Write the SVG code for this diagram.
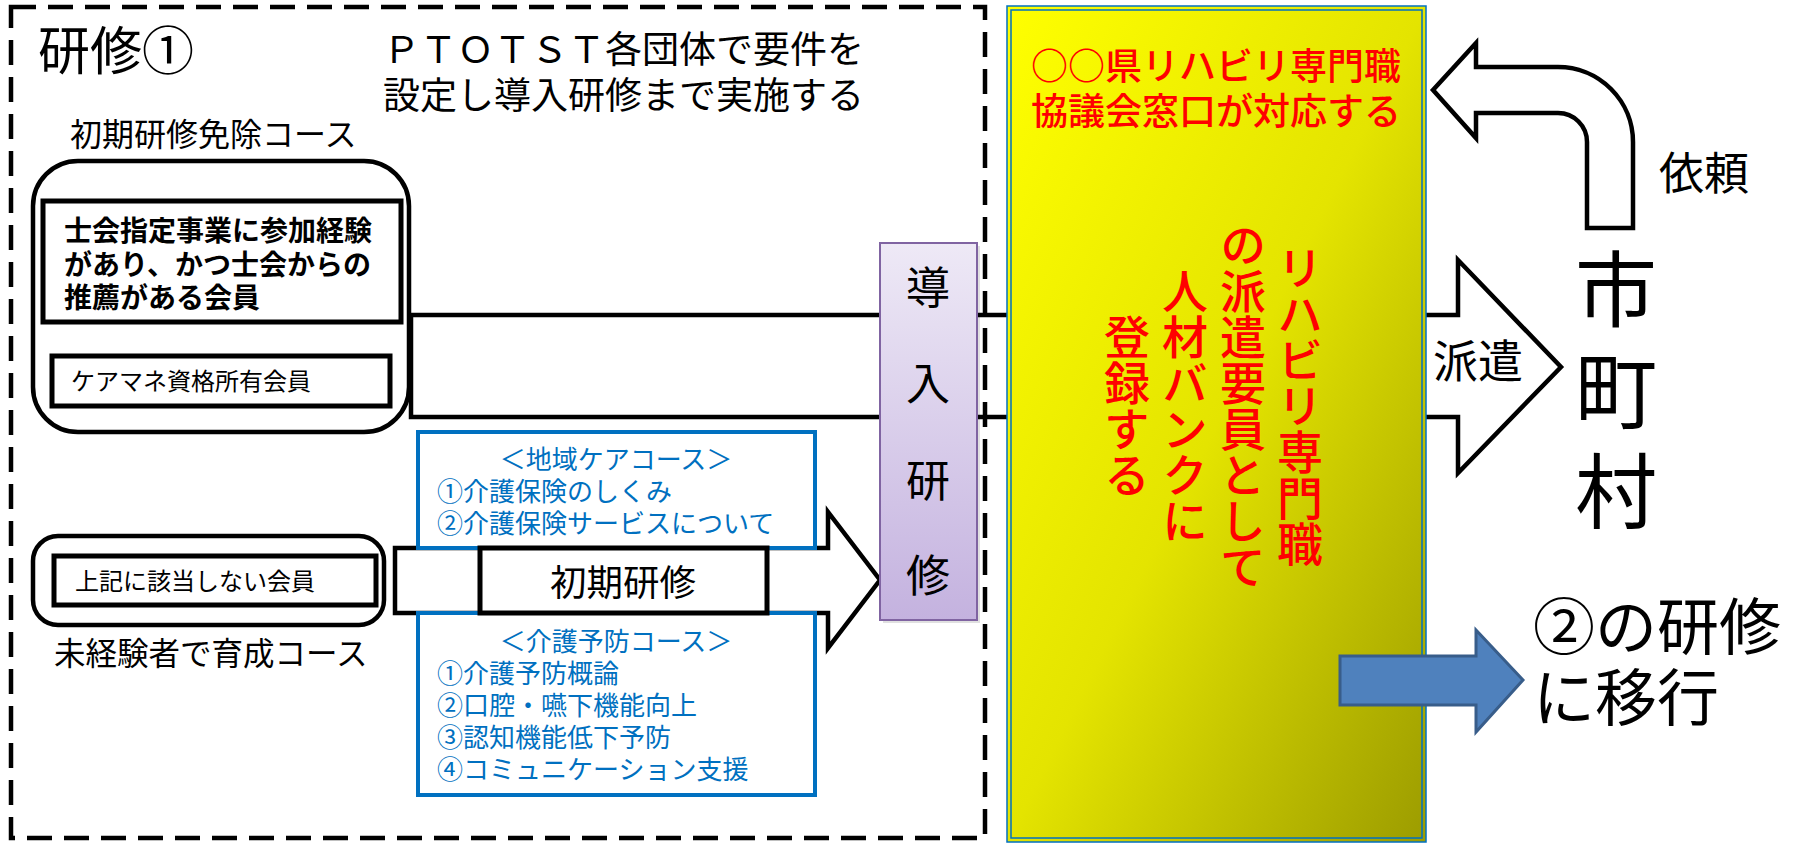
<svg xmlns="http://www.w3.org/2000/svg" width="1797" height="843" viewBox="0 0 1797 843">
<style>
text{font-family:"Noto Sans CJK JP","Noto Sans CJK SC",sans-serif;fill:#000}
.blk{fill:#fff;stroke:#000;stroke-width:4.5}
.thick{fill:#fff;stroke:#000;stroke-width:5}
.blue{fill:#fff;stroke:#0070c0;stroke-width:4}
.bt{fill:#0070c0;font-size:26px}
.red{fill:#ff0000}
.vcol{fill:#ff0000;font-size:46px;writing-mode:vertical-rl;font-weight:500}
</style>
<defs>
<linearGradient id="yel" x1="0" y1="0" x2="1" y2="1">
<stop offset="0" stop-color="#ffff00"/>
<stop offset="0.5" stop-color="#e4e400"/>
<stop offset="1" stop-color="#9c9c00"/>
</linearGradient>
<linearGradient id="pur" x1="0" y1="0" x2="0" y2="1">
<stop offset="0" stop-color="#eee9f6"/>
<stop offset="1" stop-color="#c4b2df"/>
</linearGradient>
</defs>

<g id="connectors">
<path id="haken-arrow" class="blk" stroke-width="4" d="M411 315 L1458 315 L1458 260 L1561 367 L1458 473 L1458 417 L411 417 Z"/>
</g>

<rect id="frame" x="11" y="7" width="974" height="831" fill="none" stroke="#000" stroke-width="4.5" stroke-dasharray="25 12"/>

<g id="title">
<text x="38" y="70" font-size="52">研修①</text>
<text x="383" y="63" font-size="37">ＰＴＯＴＳＴ各団体で要件を</text>
<text x="383" y="109" font-size="37">設定し導入研修まで実施する</text>
</g>

<g id="exempt-course">
<text x="70" y="146" font-size="32">初期研修免除コース</text>
<rect class="blk" x="33" y="161" width="376" height="271" rx="45"/>
<rect class="thick" x="43" y="201" width="358" height="121"/>
<text x="64" y="241" font-size="28" font-weight="bold">士会指定事業に参加経験</text>
<text x="64" y="275" font-size="28" font-weight="bold">があり、かつ士会からの</text>
<text x="64" y="308" font-size="28" font-weight="bold">推薦がある会員</text>
<rect class="thick" x="52" y="356" width="338" height="50"/>
<text x="71" y="390" font-size="24">ケアマネ資格所有会員</text>
</g>

<g id="connectors2">
<path id="shoki-arrow" class="blk" d="M395 548 L828 548 L828 512 L880 580 L828 648 L828 613 L395 613 Z"/>
</g>

<g id="new-course">
<rect class="blk" x="33" y="536" width="351" height="89" rx="25"/>
<rect class="thick" x="54" y="556" width="322" height="49"/>
<text x="75" y="590" font-size="24">上記に該当しない会員</text>
<text x="54" y="665" font-size="31.5">未経験者で育成コース</text>
</g>

<g id="chiiki-care">
<rect class="blue" x="418" y="432" width="397" height="116"/>
<text class="bt" x="616" y="469" text-anchor="middle">＜地域ケアコース＞</text>
<text class="bt" x="437" y="501">①介護保険のしくみ</text>
<text class="bt" x="437" y="533">②介護保険サービスについて</text>
</g>

<g id="kaigo-yobo">
<rect class="blue" x="418" y="613" width="397" height="182"/>
<text class="bt" x="616" y="651" text-anchor="middle">＜介護予防コース＞</text>
<text class="bt" x="437" y="683">①介護予防概論</text>
<text class="bt" x="437" y="715">②口腔・嚥下機能向上</text>
<text class="bt" x="437" y="747">③認知機能低下予防</text>
<text class="bt" x="437" y="779">④コミュニケーション支援</text>
</g>

<g id="shoki-kenshu">
<rect class="thick" x="480" y="548" width="287" height="65"/>
<text x="623" y="596" font-size="36.5" text-anchor="middle">初期研修</text>
</g>

<g id="dounyu">
<rect x="883" y="246" width="97" height="377" fill="#000" opacity="0.12"/>
<rect x="880" y="243" width="97" height="377" fill="url(#pur)" stroke="#8064a2" stroke-width="2"/>
<text x="928" y="304" font-size="44" text-anchor="middle">導</text>
<text x="928" y="400" font-size="44" text-anchor="middle">入</text>
<text x="928" y="497" font-size="44" text-anchor="middle">研</text>
<text x="928" y="592" font-size="44" text-anchor="middle">修</text>
</g>

<g id="council">
<rect x="1007" y="6" width="419" height="836" fill="url(#yel)" stroke="#0070c0" stroke-width="1.5"/>
<rect x="1011" y="10" width="411" height="828" fill="none" stroke="#0070c0" stroke-width="1.5"/>
<text class="red" x="1216" y="80" font-size="37" text-anchor="middle" font-weight="500">○○県リハビリ専門職</text>
<text class="red" x="1216" y="125" font-size="37" text-anchor="middle" font-weight="500">協議会窓口が対応する</text>
<text class="vcol" x="1300" y="406" text-anchor="middle">リハビリ専門職</text>
<text class="vcol" x="1243" y="406" text-anchor="middle">の派遣要員として</text>
<text class="vcol" x="1185" y="406" text-anchor="middle">人材バンクに</text>
<text class="vcol" x="1127" y="406" text-anchor="middle">登録する</text>
</g>

<g id="connectors3">
<path id="next-arrow" d="M1340 656 L1476 656 L1476 630 L1523 680 L1476 732 L1476 705 L1340 705 Z" fill="#4f81bd" stroke="#385d8a" stroke-width="3"/>
<path id="irai-arrow" class="blk" stroke-width="4" d="M1587 228 L1587 142 A29 29 0 0 0 1558 113 L1476 113 L1476 138 L1433 90 L1476 43 L1476 67 L1558 67 A75 75 0 0 1 1633 142 L1633 228 Z"/>
<text x="1478" y="378" font-size="45" text-anchor="middle">派遣</text>
<text x="1659" y="190" font-size="45">依頼</text>
</g>

<g id="municipality">
<text x="1616" y="320" font-size="82" text-anchor="middle">市</text>
<text x="1616" y="422" font-size="82" text-anchor="middle">町</text>
<text x="1616" y="522" font-size="82" text-anchor="middle">村</text>
</g>

<g id="next-training">
<text x="1533" y="650" font-size="62">②の研修</text>
<text x="1533" y="721" font-size="62">に移行</text>
</g>
</svg>
